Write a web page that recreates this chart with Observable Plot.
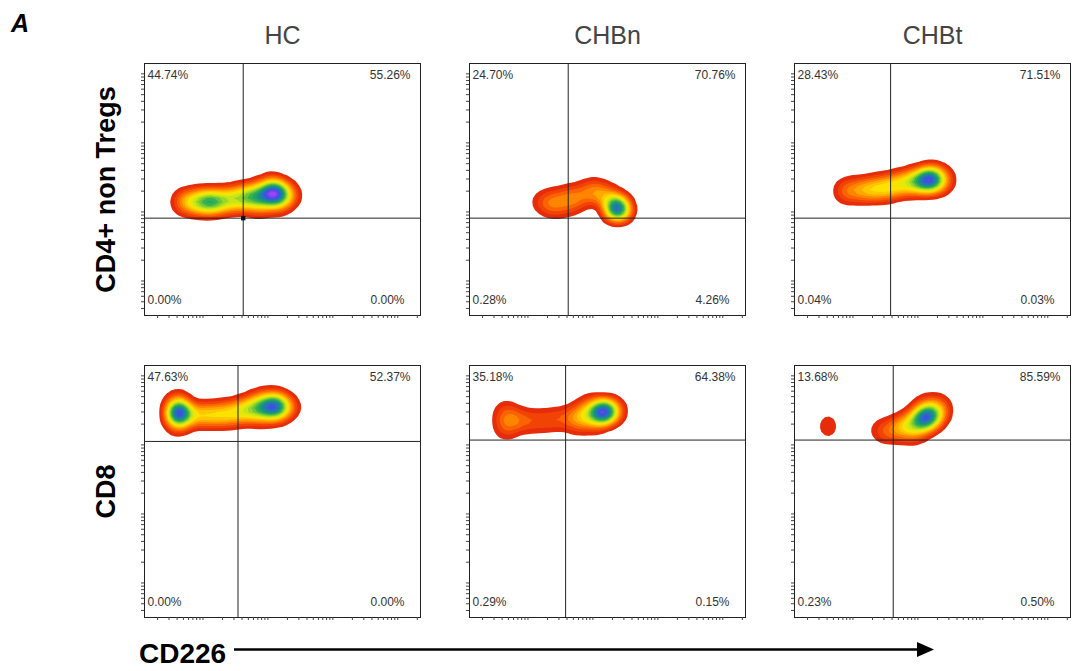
<!DOCTYPE html>
<html><head><meta charset="utf-8">
<script src="https://cdn.jsdelivr.net/npm/d3@7"></script>
<script src="https://cdn.jsdelivr.net/npm/@observablehq/plot@0.6"></script>
<style>
html,body{margin:0;padding:0;background:#fff;}
#wrap{position:relative;width:1072px;height:671px;overflow:hidden;font-family:"Liberation Sans",Arial,sans-serif;}
#wrap svg{position:absolute;left:0;top:0;}
#overlay{pointer-events:none;}
</style></head><body><div id="wrap"></div>
<script>
// ---- categories ----
const columns = ["HC", "CHBn", "CHBt"];
const rows = ["CD4+ non Tregs", "CD8"];
const panelCol = ["HC", "CHBn", "CHBt", "HC", "CHBn", "CHBt"];
const panelRow = ["CD4+ non Tregs", "CD4+ non Tregs", "CD4+ non Tregs", "CD8", "CD8", "CD8"];

// ---- quadrant percentages ----
const pctUpperLeft  = [44.74, 24.70, 28.43, 47.63, 35.18, 13.68];
const pctUpperRight = [55.26, 70.76, 71.51, 52.37, 64.38, 85.59];
const pctLowerLeft  = [0.00, 0.28, 0.04, 0.00, 0.29, 0.23];
const pctLowerRight = [0.00, 4.26, 0.03, 0.00, 0.15, 0.50];

// ---- quadrant gates (log10 units) ----
const gateX = [2.62, 2.62, 2.58, 2.54, 2.58, 2.62];
const gateY = [1.91, 1.91, 1.91, 3.05, 3.07, 3.07];

// ---- populations: [log10 CD226, log10 marker, weight] ----
const hcCd4 = [[1.68,2.145,1.7],[1.80,2.145,2.2],[1.92,2.145,2.7],[2.05,2.145,3.0],[2.17,2.145,3.0],[2.29,2.159,2.8],[2.42,2.174,2.7],[2.54,2.188,2.8],[2.66,2.217,3.0],[2.78,2.232,3.4],[2.91,2.246,3.8],[3.03,2.246,4.0],[3.15,2.246,3.8],[3.28,2.246,2.4],[3.35,2.232,1.0],
  [2.09,2.145,2.0],[3.11,2.30,4.5],[2.908,2.087,1.0],[3.154,2.087,1.0],[2.785,2.072,0.8],[3.031,2.42,0.8]];
const chbnCd4 = [[2.20,2.145,1.0],[2.354,2.159,1.2],[2.508,2.188,1.3],[2.662,2.217,1.3],[2.815,2.246,1.3],[2.969,2.275,1.3],[3.092,2.275,1.2],[3.200,2.246,1.2],[3.277,2.188,1.2],[3.338,2.116,1.5],
  [3.385,2.043,10],[2.354,2.043,0.7],[2.538,2.058,0.7],[2.723,2.101,0.7],[3.0,2.377,0.5]];
const chbtCd4 = [[1.846,2.304,1.2],[1.969,2.304,1.3],[2.092,2.319,1.5],[2.215,2.319,1.9],[2.338,2.333,2.3],[2.462,2.348,2.1],[2.585,2.362,2.0],[2.708,2.391,2.2],[2.831,2.420,2.6],[2.954,2.435,3.1],[3.077,2.449,3.6],[3.200,2.464,3.6],[3.323,2.464,2.6],[3.415,2.464,1.0],
  [3.185,2.478,5.0]];
const hcCd8 = [[1.615,3.638,1.5],[1.615,3.290,1.5],[1.615,3.464,10.5],
  [1.769,3.435,1.9],[1.892,3.435,1.9],[2.015,3.435,1.9],[2.138,3.435,1.9],[2.262,3.435,2.0],[2.385,3.449,2.1],[2.508,3.464,2.2],[2.631,3.493,2.5],[2.754,3.522,2.9],[2.877,3.536,3.3],[3.000,3.551,3.6],[3.123,3.551,3.6],[3.246,3.551,2.4],[3.323,3.551,1.0],
  [3.092,3.565,3.0],[2.877,3.696,0.8],[3.123,3.696,0.8],[2.877,3.377,0.8],[3.123,3.377,0.8]];
const chbnCd8 = [[1.660,3.507,1.0],[1.660,3.362,1.6],[1.660,3.203,1.0],
  [1.790,3.362,1.0],[1.920,3.348,1.0],[2.062,3.348,1.0],[2.215,3.348,1.0],[2.369,3.362,1.0],[2.523,3.377,1.0],[2.677,3.391,1.2],[2.800,3.420,1.6],[2.923,3.435,2.1],[3.046,3.464,2.7],[3.169,3.478,3.0],[3.292,3.493,2.0],[3.369,3.493,0.8],
  [3.169,3.478,6.5],[2.923,3.609,0.8],[3.046,3.275,0.8],[2.800,3.275,0.8]];
const chbtCd8 = [[1.615,3.348,0.65],[1.615,3.203,0.65],
  [2.400,3.217,0.8],[2.523,3.188,1.0],[2.646,3.217,1.4],[2.769,3.261,1.9],[2.892,3.304,2.5],[3.015,3.348,3.1],[3.138,3.391,3.5],[3.262,3.449,2.8],[3.354,3.522,1.3],
  [3.138,3.406,5.2],[3.015,3.188,1.0],[2.892,3.130,0.7],[3.262,3.623,0.7],[3.077,3.594,0.8]];
const populations = [hcCd4, chbnCd4, chbtCd4, hcCd8, chbnCd8, chbtCd8];

// ---- axis ticks (log decades with minor ticks) ----
const tickMultipliers = [1, 2, 3, 4, 5, 6, 7, 8, 9];
const xDecades = [1, 2, 3, 4, 5];
const yDecades = [0, 1, 2, 3, 4];
const xDomain = [1.1, 5.35];
const yDomain = [0.5, 4.15];

// pseudocolor ramp (low -> high density)
const flowColors = ["#d81810","#f03a08","#ff7000","#ffb000","#ffe000","#d8ec10","#8cd030","#30b050","#15957a","#2a70c0","#3850e0","#a040f8"];

// ---- build tables ----
const panels = panelCol.map((c, i) => ({
  col: c, row: panelRow[i],
  ul: pctUpperLeft[i], ur: pctUpperRight[i], ll: pctLowerLeft[i], lr: pctLowerRight[i],
  gx: gateX[i], gy: gateY[i]
}));
const events = populations.flatMap((pop, i) => pop.map(([x, y, w]) => ({col: panelCol[i], row: panelRow[i], x, y, w})));
const xTicks = xDecades.flatMap(d => tickMultipliers.map(m => d + Math.log10(m))).filter(v => v >= xDomain[0] && v <= xDomain[1]);
const yTicks = yDecades.flatMap(d => tickMultipliers.map(m => d + Math.log10(m))).filter(v => v >= yDomain[0] && v <= yDomain[1]);
const fmt = v => v.toFixed(2) + "%";

const pctStyle = {fx: "col", fy: "row", fontSize: 12, fill: "#333"};

const chart = Plot.plot({
  width: 1072, height: 671,
  marginLeft: 143, marginRight: 0, marginTop: 63, marginBottom: 54,
  style: {fontFamily: "Liberation Sans, Arial, sans-serif", background: "white", overflow: "visible"},
  fx: {domain: columns, paddingInner: 0.15, paddingOuter: 0, label: null},
  fy: {domain: rows, paddingInner: 0.166, paddingOuter: 0, label: null, axis: null},
  x: {domain: xDomain, label: null},
  y: {domain: yDomain, label: null},
  color: {type: "linear", interpolate: d3.piecewise(d3.interpolateRgb, flowColors)},
  marks: [
    Plot.density(events, {x: "x", y: "y", weight: "w", fx: "col", fy: "row", bandwidth: 6, thresholds: 20, fill: "density", stroke: "none"}),
    Plot.ruleX(panels, {x: "gx", fx: "col", fy: "row", stroke: "#222", strokeWidth: 1}),
    Plot.ruleY(panels, {y: "gy", fx: "col", fy: "row", stroke: "#222", strokeWidth: 1}),
    Plot.dot(panels.filter((d, i) => i === 0), {x: "gx", y: "gy", fx: "col", fy: "row", symbol: "square", r: 2.5, fill: "#111", stroke: "none"}),
    Plot.frame({stroke: "#222"}),
    Plot.axisX({ticks: xTicks, tickSize: 3, tickFormat: () => "", facetAnchor: null, stroke: "#444", label: null}),
    Plot.axisY({anchor: "left", ticks: yTicks, tickSize: 3, tickFormat: () => "", facetAnchor: null, stroke: "#444", label: null}),
    Plot.axisFx({anchor: "top", tickSize: 0, tickPadding: 20, fontSize: 25, fill: "#444", label: null}),
    Plot.text(rows, {fx: () => columns[0], fy: d => d, text: d => d, frameAnchor: "left", rotate: -90, dx: -38, fontSize: 27, fontWeight: "bold", fill: "#000", textAnchor: "middle"}),
    Plot.text(panels, {...pctStyle, text: d => fmt(d.ul), frameAnchor: "top-left", textAnchor: "start", lineAnchor: "top", dx: 3, dy: 7}),
    Plot.text(panels, {...pctStyle, text: d => fmt(d.ur), frameAnchor: "top-right", textAnchor: "end", lineAnchor: "top", dx: -10, dy: 7}),
    Plot.text(panels, {...pctStyle, text: d => fmt(d.ll), frameAnchor: "bottom-left", textAnchor: "start", lineAnchor: "bottom", dx: 3, dy: -12}),
    Plot.text(panels, {...pctStyle, text: d => fmt(d.lr), frameAnchor: "bottom-right", textAnchor: "end", lineAnchor: "bottom", dx: -16, dy: -12})
  ]
});
const wrap = document.getElementById("wrap");
wrap.appendChild(chart);

// panel letter and x-axis arrow label
const ns = "http://www.w3.org/2000/svg";
const ov = document.createElementNS(ns, "svg");
ov.setAttribute("id", "overlay");
ov.setAttribute("width", 1072); ov.setAttribute("height", 671);
ov.innerHTML = `
  <text x="11" y="32" font-family="Liberation Sans, Arial, sans-serif" font-size="25" font-weight="bold" font-style="italic" fill="#000">A</text>
  <text x="139" y="663" font-family="Liberation Sans, Arial, sans-serif" font-size="28" font-weight="bold" fill="#000">CD226</text>
  <line x1="234" y1="649.5" x2="919" y2="649.5" stroke="#000" stroke-width="2.5"/>
  <polygon points="917,642 934,649.5 917,657" fill="#000"/>`;
wrap.appendChild(ov);
</script></body></html>
